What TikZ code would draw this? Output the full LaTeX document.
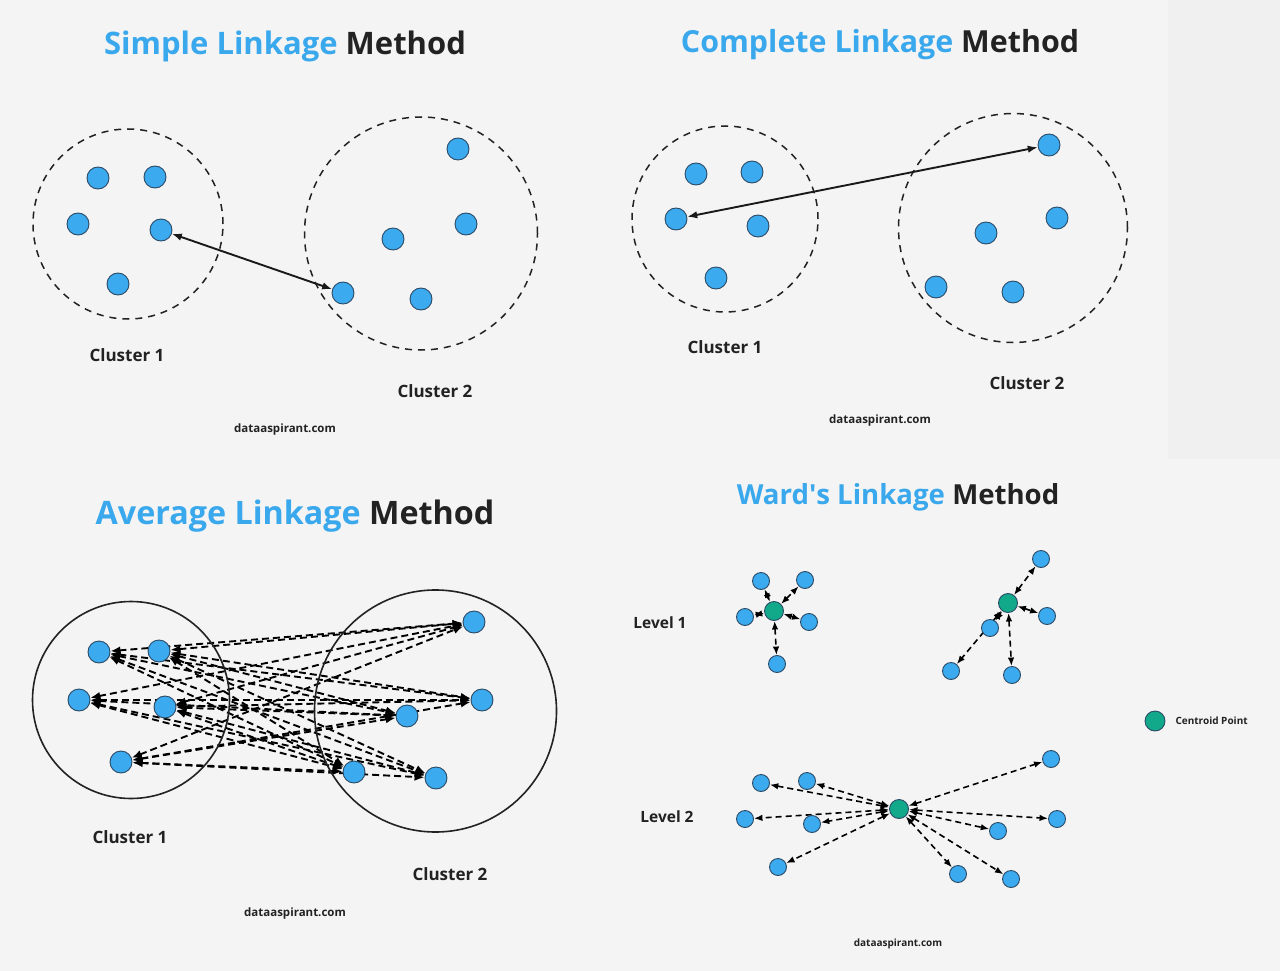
\documentclass[tikz,border=0pt]{standalone}
\usepackage{fontspec}
\setmainfont{Open Sans}
\usetikzlibrary{arrows.meta}
\definecolor{bgc}{HTML}{F4F4F4}
\definecolor{stripc}{HTML}{F0F0F0}
\definecolor{tblue}{HTML}{3AA8EC}
\definecolor{tdark}{HTML}{222222}
\definecolor{dotblue}{HTML}{3BAAEE}
\definecolor{dotedge}{HTML}{2B4A66}
\definecolor{teal}{HTML}{12A88A}
\pgfdeclarelayer{back}
\pgfdeclarelayer{edges}
\pgfsetlayers{back,edges,main}
\tikzset{
  title/.style={anchor=base, font=\fontsize{#1}{#1}\selectfont\bfseries},
  lbl/.style={anchor=base, text=tdark, font=\fontsize{17}{20}\selectfont\bfseries},
  lvl/.style={anchor=base, text=tdark, font=\fontsize{15.5}{18}\selectfont\bfseries},
  site/.style={anchor=base, text=tdark, font=\fontsize{#1}{#1}\selectfont\bfseries},
  dot/.style={circle, fill=dotblue, draw=dotedge, line width=0.9pt, inner sep=0pt, minimum size=#1},
  dot/.default=22,
  cen/.style={circle, fill=teal, draw=dotedge, line width=0.9pt, inner sep=0pt, minimum size=#1},
  cen/.default=19,
  dcl/.style={circle, draw=tdark, line width=1.5pt, dash pattern=on 7pt off 6pt, inner sep=0pt, minimum size=#1},
  scl/.style={circle, draw=tdark, line width=1.6pt, inner sep=0pt, minimum size=#1},
  link/.style={draw=black!90, line width=1.9pt, {Latex[length=10pt,width=7.5pt]}-{Latex[length=10pt,width=7.5pt]}},
  avg/.style={draw=black, line width=1.9pt, dash pattern=on 7pt off 4pt, {Latex[length=10pt,width=8pt]}-{Latex[length=10pt,width=8pt]}},
  ward/.style={draw=black, line width=1.6pt, dash pattern=on 6pt off 4pt, {Latex[length=8.5pt,width=6.5pt]}-{Latex[length=8.5pt,width=6.5pt]}},
}
\begin{document}
\begin{tikzpicture}[x=1pt,y=-1pt]
\useasboundingbox (0,0) rectangle (1280,971);
\begin{pgfonlayer}{back}
  \fill[bgc] (0,0) rectangle (1280,971);
  \fill[stripc] (1168,0) rectangle (1280,459);
\end{pgfonlayer}

% ---------------- Simple Linkage ----------------
\node[title=31] (t1) at (285,54.5) {\textcolor{tblue}{Simple Linkage} \textcolor{tdark}{Method}};
\node[dcl=190] (s1) at (128,224) {};
\node[dcl=233] (s2) at (421,233.5) {};
\node[dot] (sa1) at (98,178) {};
\node[dot] (sa2) at (155,177) {};
\node[dot] (sa3) at (78,224) {};
\node[dot] (sa4) at (161,230) {};
\node[dot] (sa5) at (118,284) {};
\node[dot] (sb1) at (458,149) {};
\node[dot] (sb2) at (466,224) {};
\node[dot] (sb3) at (393,239) {};
\node[dot] (sb4) at (343,293) {};
\node[dot] (sb5) at (421,299) {};
\draw[link] (sa4) -- (sb4);
\node[lbl] (sl1) at (127,361) {Cluster 1};
\node[lbl] (sl2) at (435,397) {Cluster 2};
\node[site=11.5] (sw) at (285,432) {dataaspirant.com};

% ---------------- Complete Linkage ----------------
\node[title=30.4] (t2) at (880,52.5) {\textcolor{tblue}{Complete Linkage} \textcolor{tdark}{Method}};
\node[dcl=186] (c1) at (725,219) {};
\node[dcl=229] (c2) at (1013,228) {};
\node[dot] (ca1) at (696,174) {};
\node[dot] (ca2) at (752,172) {};
\node[dot] (ca3) at (676,219) {};
\node[dot] (ca4) at (758,226) {};
\node[dot] (ca5) at (716,278) {};
\node[dot] (cb1) at (1049,145) {};
\node[dot] (cb2) at (1057,218) {};
\node[dot] (cb3) at (986,233) {};
\node[dot] (cb4) at (936,287) {};
\node[dot] (cb5) at (1013,292) {};
\draw[link] (ca3) -- (cb1);
\node[lbl] (cl1) at (725,353) {Cluster 1};
\node[lbl] (cl2) at (1027,389) {Cluster 2};
\node[site=11.5] (cw) at (880,423) {dataaspirant.com};

% ---------------- Average Linkage ----------------
\node[title=32.3] (t3) at (295,524) {\textcolor{tblue}{Average Linkage} \textcolor{tdark}{Method}};
\node[scl=197] (a0) at (131,700) {};
\node[scl=242] (b0) at (435.5,711) {};
\node[dot] (a1) at (99,652) {};
\node[dot] (a2) at (159,651) {};
\node[dot] (a3) at (79,700) {};
\node[dot] (a4) at (165,707) {};
\node[dot] (a5) at (121,762) {};
\node[dot] (b1) at (474,622) {};
\node[dot] (b2) at (482,700) {};
\node[dot] (b3) at (407,716) {};
\node[dot] (b4) at (354,772) {};
\node[dot] (b5) at (436,778) {};
\begin{pgfonlayer}{edges}
\foreach \i in {1,...,5}{\foreach \j in {1,...,5}{\draw[avg] (a\i) -- (b\j);}}
\end{pgfonlayer}
\node[lbl] (al1) at (130,843) {Cluster 1};
\node[lbl] (al2) at (450,880) {Cluster 2};
\node[site=11.5] (aw) at (295,916) {dataaspirant.com};

% ---------------- Ward's Linkage ----------------
\node[title=27.6] (t4) at (898,504) {\textcolor{tblue}{Ward\textquotesingle s Linkage} \textcolor{tdark}{Method}};
\node[lvl] (lv1) at (660,628) {Level 1};
\node[lvl] (lv2) at (667,822) {Level 2};
% level 1, group A
\node[cen] (g1) at (774,611) {};
\node[dot=17] (g1a) at (761,581) {};
\node[dot=17] (g1b) at (805,580) {};
\node[dot=17] (g1c) at (745,617) {};
\node[dot=17] (g1d) at (809,622) {};
\node[dot=17] (g1e) at (777,664) {};
% level 1, group B
\node[cen] (g2) at (1008,603) {};
\node[dot=17] (g2a) at (1041,559) {};
\node[dot=17] (g2b) at (1047,616) {};
\node[dot=17] (g2c) at (990,628) {};
\node[dot=17] (g2d) at (951,671) {};
\node[dot=17] (g2e) at (1012,675) {};
% level 2
\node[cen] (g3) at (899,809) {};
\node[dot=17] (g3a) at (761,783) {};
\node[dot=17] (g3b) at (807,781) {};
\node[dot=17] (g3c) at (745,819) {};
\node[dot=17] (g3d) at (812,824) {};
\node[dot=17] (g3e) at (778,867) {};
\node[dot=17] (g3f) at (1051,759) {};
\node[dot=17] (g3g) at (1057,819) {};
\node[dot=17] (g3h) at (998,831) {};
\node[dot=17] (g3i) at (958,874) {};
\node[dot=17] (g3j) at (1011,879) {};
\begin{pgfonlayer}{edges}
\foreach \n in {a,b,c,d,e}{\draw[ward] (g1) -- (g1\n);}
\foreach \n in {a,b,c,d,e}{\draw[ward] (g2) -- (g2\n);}
\foreach \n in {a,b,c,d,e,f,g,h,i,j}{\draw[ward] (g3) -- (g3\n);}
\end{pgfonlayer}
% legend
\node[cen=20] (leg) at (1155,721) {};
\node[anchor=west, text=tdark, font=\fontsize{10}{12}\selectfont\bfseries] (legt) at (1172,721) {Centroid Point};
\node[site=10] (ww) at (898,946) {dataaspirant.com};
\end{tikzpicture}
\end{document}
